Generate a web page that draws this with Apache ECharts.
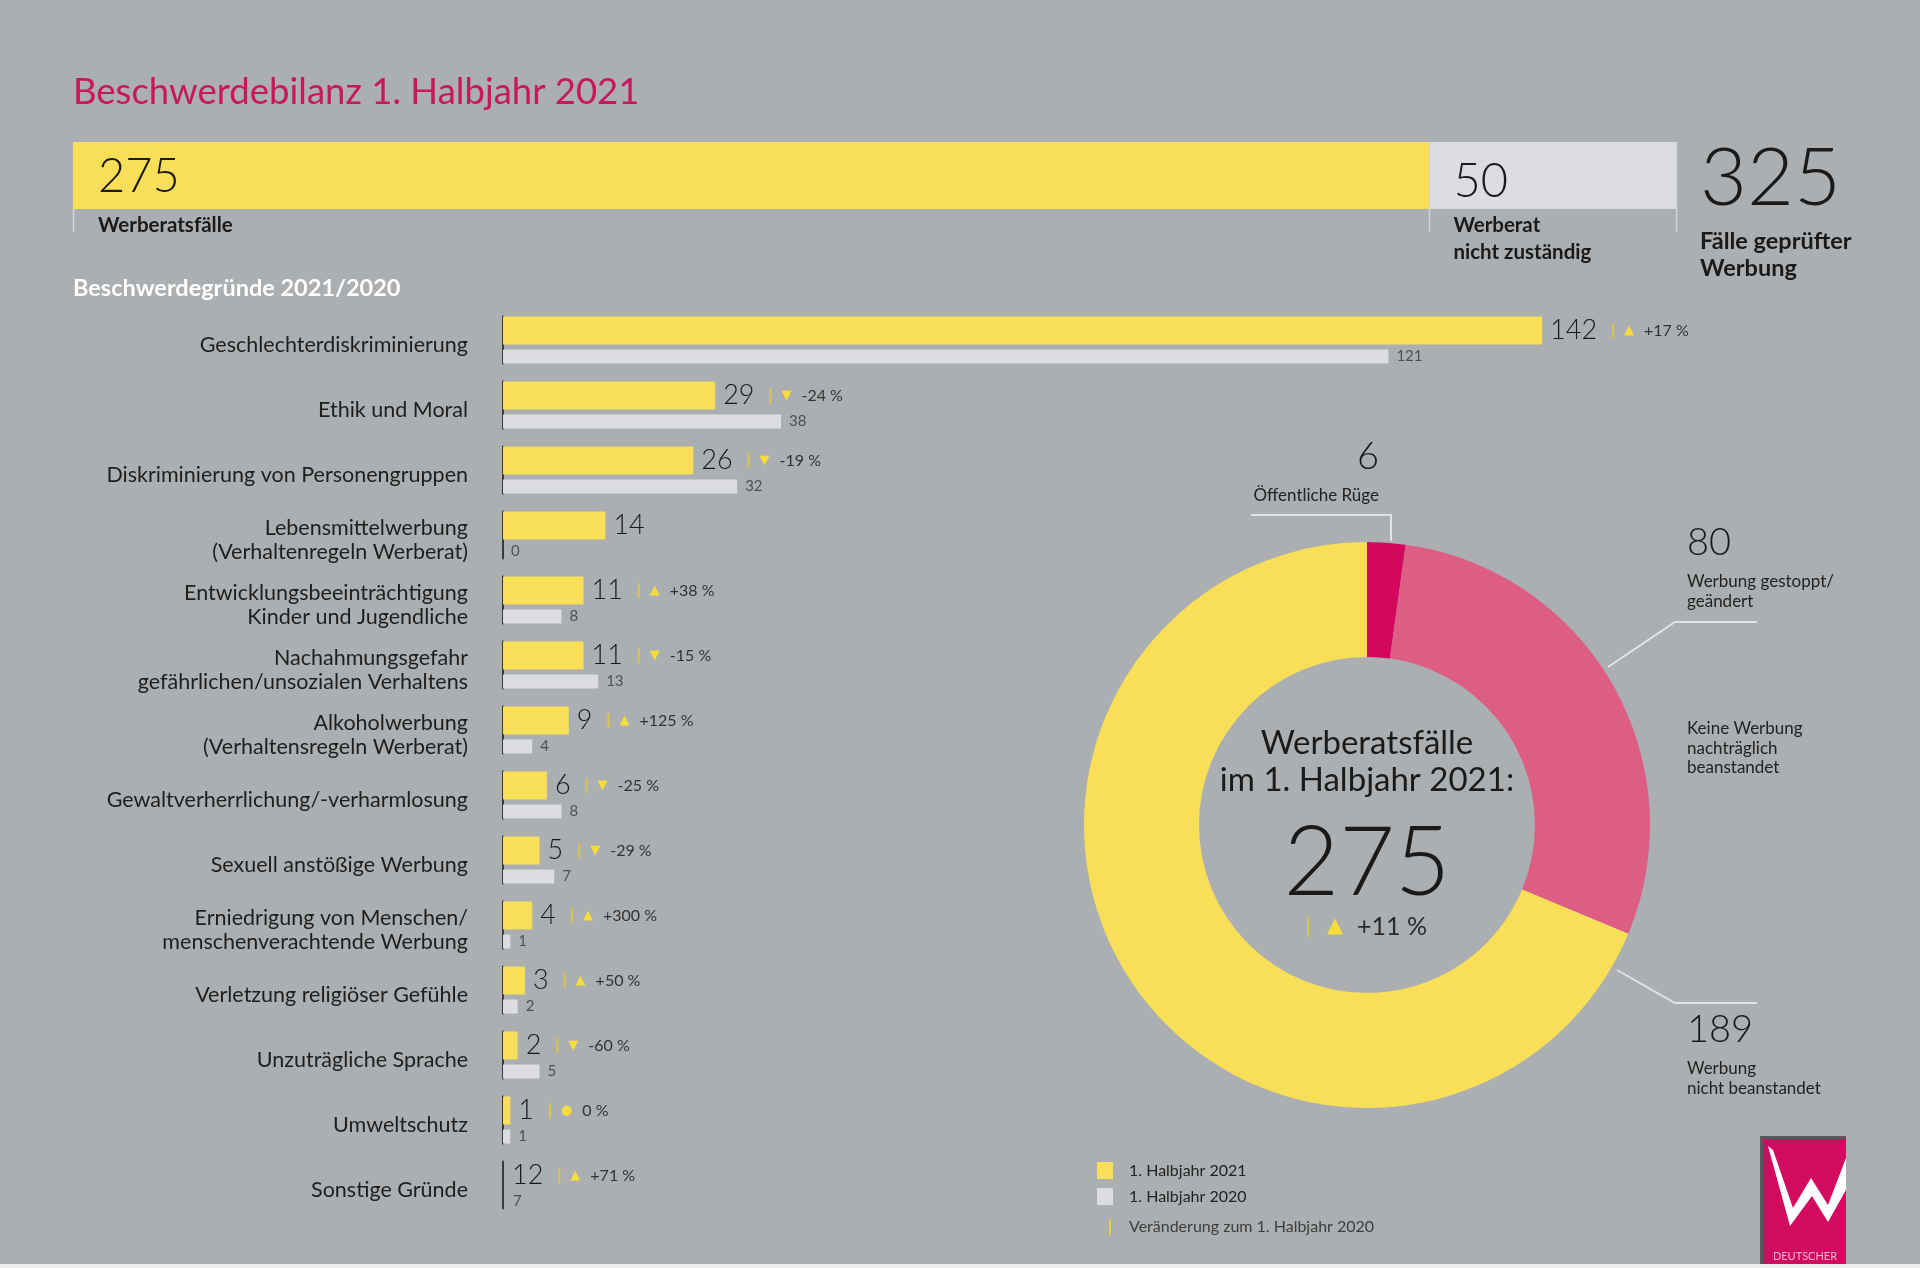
<!DOCTYPE html>
<html>
<head>
<meta charset="utf-8">
<title>Beschwerdebilanz 1. Halbjahr 2021</title>
<script src="https://cdn.jsdelivr.net/npm/echarts@6.0.0/dist/echarts.min.js"></script>
<style>
  html, body { margin: 0; padding: 0; background: #abafb2; }
  #container { width: 1920px; height: 1268px; }
</style>
</head>
<body>
<div id="container"></div>
<script>
var categories = [
    "Geschlechterdiskriminierung",
    "Ethik und Moral",
    "Diskriminierung von Personengruppen",
    "Lebensmittelwerbung\n(Verhaltenregeln Werberat)",
    "Entwicklungsbeeinträchtigung\nKinder und Jugendliche",
    "Nachahmungsgefahr\ngefährlichen/unsozialen Verhaltens",
    "Alkoholwerbung\n(Verhaltensregeln Werberat)",
    "Gewaltverherrlichung/-verharmlosung",
    "Sexuell anstößige Werbung",
    "Erniedrigung von Menschen/\nmenschenverachtende Werbung",
    "Verletzung religiöser Gefühle",
    "Unzuträgliche Sprache",
    "Umweltschutz",
    "Sonstige Gründe",
];
var cases2021 = [142, 29, 26, 14, 11, 11, 9, 6, 5, 4, 3, 2, 1, 12];
var cases2020 = [121, 38, 32, 0, 8, 13, 4, 8, 7, 1, 2, 5, 1, 7];
// rows printed as numbers only, without a bar
var noBarRows = ["Sonstige Gründe"];
var seriesNames = ["1. Halbjahr 2021", "1. Halbjahr 2020"];

var overviewNames = ["Werberatsfälle", "Werberat\nnicht zuständig"];
var overviewValues = [275, 50];
var overviewTotalName = "Fälle geprüfter\nWerbung";

var outcomeNames = ["Öffentliche Rüge", "Werbung gestoppt/\ngeändert", "Werbung\nnicht beanstandet"];
var outcomeValues = [6, 80, 189];

var YELLOW = "#f8df57";
var LIGHT = "#dcdde0";
var FONT = "Lato";

function sum(a) {
    return a.reduce(function (s, v) { return s + v; }, 0);
}
function changeText(cur, prev) {
    var pct = Math.round((cur - prev) / prev * 100);
    var sym = pct > 0 ? "▲" : pct < 0 ? "▼" : "●";
    var txt = (pct > 0 ? "+" : pct < 0 ? "-" : "") + Math.abs(pct) + " %";
    return "{g1|}{s|}{g2|}{a|" + sym + "}{g3|}{p|" + txt + "}";
}

var total2021 = sum(cases2021);
var total2020 = sum(cases2020);
var overviewTotal = sum(overviewValues);

var topBar = { left: 73, top: 142, width: 1603, height: 67 };

var dom = document.getElementById("container");
var myChart = echarts.init(dom);
var option;

var data2021 = cases2021.map(function (v, i) {
    if (noBarRows.indexOf(categories[i]) >= 0) {
        return { value: v, itemStyle: { color: "rgba(0,0,0,0)" }, label: { position: "insideLeft", distance: 9 } };
    }
    return v;
});
var data2020 = cases2020.map(function (v, i) {
    if (noBarRows.indexOf(categories[i]) >= 0) {
        return { value: v, itemStyle: { color: "rgba(0,0,0,0)" }, label: { position: "insideLeft", distance: 10 } };
    }
    return v;
});

// separator lines under the overview bar
var sepLines = [];
var cum = 0;
[0].concat(overviewValues).forEach(function (v, i) {
    cum += v;
    var x = Math.round(topBar.left + topBar.width * cum / overviewTotal) + 0.5;
    var y1 = i === overviewValues.length ? topBar.top : topBar.top + topBar.height;
    sepLines.push({
        type: "line",
        shape: { x1: x, y1: y1, x2: x, y2: 232 },
        style: { stroke: "#d4d5d8", lineWidth: 1.5 },
        silent: true,
    });
});

var pctTotal = Math.round((total2021 - total2020) / total2020 * 100);

option = {
    backgroundColor: "#abafb2",
    animation: false,
    textStyle: { fontFamily: FONT },
    legend: {
        data: seriesNames,
        orient: "vertical",
        left: 1097,
        top: 1162,
        itemWidth: 16,
        itemHeight: 17,
        itemGap: 9,
        icon: "rect",
        selectedMode: false,
        padding: 0,
        textStyle: { fontSize: 16, color: "#222", fontFamily: FONT, padding: [0, 0, 0, 11] },
    },
    grid: [
        { left: topBar.left, top: topBar.top, width: topBar.width, height: topBar.height },
        { left: 503, top: 307.5, width: 1097.6, height: 910 },
    ],
    xAxis: [
        { gridIndex: 0, type: "value", min: 0, max: overviewTotal, show: false },
        { gridIndex: 1, type: "value", min: 0, max: 150, show: false },
    ],
    yAxis: [
        { gridIndex: 0, type: "category", data: ["Fälle"], show: false },
        {
            gridIndex: 1,
            type: "category",
            data: categories,
            inverse: true,
            axisTick: { show: false },
            splitLine: { show: false },
            axisLine: {
                show: true,
                lineStyle: { color: "#3a3a3a", width: 2, type: [47, 18], dashOffset: 56 },
            },
            axisLabel: {
                margin: 35,
                // empty first line pushes the label a little below the band centre
                formatter: function (v) {
                    return "{e|}\n{t|" + v.split("\n").join("}\n{t|") + "}";
                },
                rich: {
                    e: { height: 10, lineHeight: 10, fontSize: 1 },
                    t: { fontSize: 21.5, lineHeight: 24, color: "#1e1e1e", fontFamily: FONT },
                },
            },
        },
    ],
    series: [
        {
            name: overviewNames[0],
            type: "bar",
            stack: "overview",
            xAxisIndex: 0,
            yAxisIndex: 0,
            barWidth: topBar.height,
            silent: true,
            itemStyle: { color: YELLOW },
            label: {
                show: true,
                position: [25, 5],
                formatter: function (p) {
                    return "{big|" + p.value + "}\n{cap|" + overviewNames[0] + "}";
                },
                rich: {
                    big: { fontSize: 47, fontWeight: 300, lineHeight: 60, color: "#1a1a1a", fontFamily: FONT },
                    cap: { fontSize: 20.5, fontWeight: "bold", lineHeight: 36, color: "#1a1a1a", fontFamily: FONT },
                },
            },
            data: [overviewValues[0]],
        },
        {
            name: "nicht zuständig",
            type: "bar",
            stack: "overview",
            xAxisIndex: 0,
            yAxisIndex: 0,
            barWidth: topBar.height,
            silent: true,
            itemStyle: { color: LIGHT },
            label: {
                show: true,
                position: [24, 10],
                formatter: function (p) {
                    return "{big|" + p.value + "}\n{cap|" + overviewNames[1].replace("\n", "}\n{cap|") + "}";
                },
                rich: {
                    big: { fontSize: 47, fontWeight: 300, lineHeight: 60, color: "#1a1a1a", fontFamily: FONT },
                    cap: { fontSize: 20.5, fontWeight: "bold", lineHeight: 27, color: "#1a1a1a", fontFamily: FONT },
                },
            },
            data: [overviewValues[1]],
        },
        {
            name: "gesamt",
            type: "bar",
            stack: "overview",
            xAxisIndex: 0,
            yAxisIndex: 0,
            barWidth: topBar.height,
            silent: true,
            itemStyle: { color: "rgba(0,0,0,0)" },
            label: {
                show: true,
                position: [24, -12],
                formatter: function () {
                    return "{big|" + overviewTotal + "}\n{cap|" + overviewTotalName.replace("\n", "}\n{cap|") + "}";
                },
                rich: {
                    big: { fontSize: 81, fontWeight: 300, lineHeight: 98, color: "#1a1a1a", fontFamily: FONT },
                    cap: { fontSize: 23.5, fontWeight: "bold", lineHeight: 27, color: "#1a1a1a", fontFamily: FONT },
                },
            },
            data: [0],
        },
        {
            name: seriesNames[0],
            type: "bar",
            xAxisIndex: 1,
            yAxisIndex: 1,
            barWidth: 28,
            barGap: "18%",
            silent: true,
            itemStyle: { color: YELLOW },
            label: {
                show: true,
                position: "right",
                distance: 8,
                formatter: function (p) {
                    var i = p.dataIndex;
                    var prev = cases2020[i];
                    var s = "{v|" + cases2021[i] + "}";
                    if (prev > 0) s += changeText(cases2021[i], prev);
                    return s;
                },
                rich: {
                    v: { fontSize: 27, fontWeight: 300, color: "#1a1a1a", fontFamily: FONT },
                    g1: { width: 15 },
                    s: { width: 2, height: 15, backgroundColor: "#d9c44e" },
                    g2: { width: 10 },
                    a: { fontSize: 13, color: "#f7dc3c", fontFamily: "DejaVu Sans" },
                    g3: { width: 10 },
                    p: { fontSize: 16, color: "#333", fontFamily: FONT },
                },
            },
            data: data2021,
        },
        {
            name: seriesNames[1],
            type: "bar",
            xAxisIndex: 1,
            yAxisIndex: 1,
            barWidth: 14,
            silent: true,
            itemStyle: { color: LIGHT },
            label: {
                show: true,
                position: "right",
                distance: 8,
                fontSize: 15,
                color: "#505050",
                fontFamily: FONT,
            },
            data: data2020,
        },
        {
            name: "Ergebnis",
            type: "pie",
            center: [1367, 825],
            radius: [168, 283],
            startAngle: 90,
            clockwise: true,
            silent: true,
            avoidLabelOverlap: false,
            color: ["#d3085e", "#de5d84", YELLOW],
            label: {
                show: true,
                formatter: function (p) {
                    return "{n|" + p.value + "}\n{t|" + p.name + "}";
                },
                rich: {
                    n: { fontSize: 38, fontWeight: 300, lineHeight: 58, color: "#1a1a1a", fontFamily: FONT },
                    t: { fontSize: 17, lineHeight: 20, color: "#222", fontFamily: FONT },
                },
            },
            labelLine: { show: true, smooth: false, lineStyle: { color: "#e2e3e5", width: 2 } },
            labelLayout: function (params) {
                var i = params.dataIndex;
                if (i === 0) {
                    return {
                        x: 1379, y: 428, align: "right", verticalAlign: "top",
                        labelLinePoints: [[1391, 541], [1391, 515], [1251, 515]],
                    };
                }
                if (i === 1) {
                    return {
                        x: 1687, y: 514, align: "left", verticalAlign: "top",
                        labelLinePoints: [[1608, 667], [1675, 622], [1757, 622]],
                    };
                }
                return {
                    x: 1687, y: 1001, align: "left", verticalAlign: "top",
                    labelLinePoints: [[1617, 970], [1675, 1003], [1757, 1003]],
                };
            },
            data: outcomeNames.map(function (n, i) {
                return { name: n, value: outcomeValues[i] };
            }),
        },
    ],
    graphic: sepLines.concat([
        {
            type: "text",
            silent: true,
            style: {
                text: "Beschwerdebilanz 1. Halbjahr 2021",
                x: 73, y: 92, verticalAlign: "middle",
                fontSize: 36.5, fontFamily: FONT, fill: "#c8175d",
            },
        },
        {
            type: "text",
            silent: true,
            style: {
                text: "Beschwerdegründe 2021/2020",
                x: 73, y: 288, verticalAlign: "middle",
                fontSize: 23.5, fontWeight: "bold", fontFamily: FONT, fill: "#ffffff",
            },
        },
        {
            type: "text",
            silent: true,
            style: {
                text: "Werberatsfälle\nim 1. Halbjahr 2021:",
                x: 1367, y: 762, align: "center", verticalAlign: "middle",
                fontSize: 33, lineHeight: 37, fontFamily: FONT, fill: "#1a1a1a",
            },
        },
        {
            type: "text",
            silent: true,
            style: {
                text: String(total2021),
                x: 1367, y: 864, align: "center", verticalAlign: "middle",
                fontSize: 96, fontWeight: 300, fontFamily: FONT, fill: "#1a1a1a",
            },
        },
        {
            type: "text",
            silent: true,
            style: {
                text: "{s|}{g|}{a|" + (pctTotal >= 0 ? "▲" : "▼") + "}{g2|}{p|" + (pctTotal >= 0 ? "+" : "-") + Math.abs(pctTotal) + " %}",
                x: 1367, y: 927, align: "center", verticalAlign: "middle",
                rich: {
                    s: { width: 2, height: 20, backgroundColor: "#d9c44e" },
                    g: { width: 18 },
                    a: { fontSize: 21, fill: "#f7dc3c", fontFamily: "DejaVu Sans" },
                    g2: { width: 14 },
                    p: { fontSize: 25, fill: "#2a2a2a", fontFamily: FONT },
                },
            },
        },
        {
            type: "text",
            silent: true,
            style: {
                text: "Keine Werbung\nnachträglich\nbeanstandet",
                x: 1687, y: 719, verticalAlign: "top",
                fontSize: 17, lineHeight: 19.5, fontFamily: FONT, fill: "#222",
            },
        },
        {
            type: "line",
            silent: true,
            shape: { x1: 1110, y1: 1219, x2: 1110, y2: 1235 },
            style: { stroke: "#e3cf4d", lineWidth: 2 },
        },
        {
            type: "text",
            silent: true,
            style: {
                text: "Veränderung zum 1. Halbjahr 2020",
                x: 1129, y: 1227, verticalAlign: "middle",
                fontSize: 16, fontFamily: FONT, fill: "#3d3d3d",
            },
        },
        {
            type: "group",
            silent: true,
            children: [
                { type: "rect", shape: { x: 1760, y: 1136, width: 86, height: 132 }, style: { fill: "#5a5a5c" } },
                { type: "rect", shape: { x: 1763, y: 1139, width: 83, height: 129 }, style: { fill: "#d30b60" } },
                {
                    type: "polygon",
                    shape: {
                        points: [[1768, 1146], [1773, 1150], [1793, 1208], [1811, 1178], [1828, 1205], [1846, 1158],
                            [1846, 1190], [1828, 1222], [1812, 1196], [1790, 1226]],
                    },
                    style: { fill: "#ffffff" },
                },
                {
                    type: "text",
                    style: { text: "DEUTSCHER", x: 1805, y: 1256, align: "center", verticalAlign: "middle", fontSize: 11, fontFamily: FONT, fill: "#f4b8cd" },
                },
                {
                    type: "text",
                    style: { text: "WERBERAT", x: 1805, y: 1268, align: "center", verticalAlign: "middle", fontSize: 11, fontWeight: "bold", fontFamily: FONT, fill: "#ffffff" },
                },
            ],
        },
        {
            type: "rect",
            silent: true,
            shape: { x: 0, y: 1264, width: 1920, height: 4 },
            style: { fill: "#eeeeee" },
        },
    ]),
};

if (option && typeof option === "object") {
    myChart.setOption(option);
}
</script>
</body>
</html>
